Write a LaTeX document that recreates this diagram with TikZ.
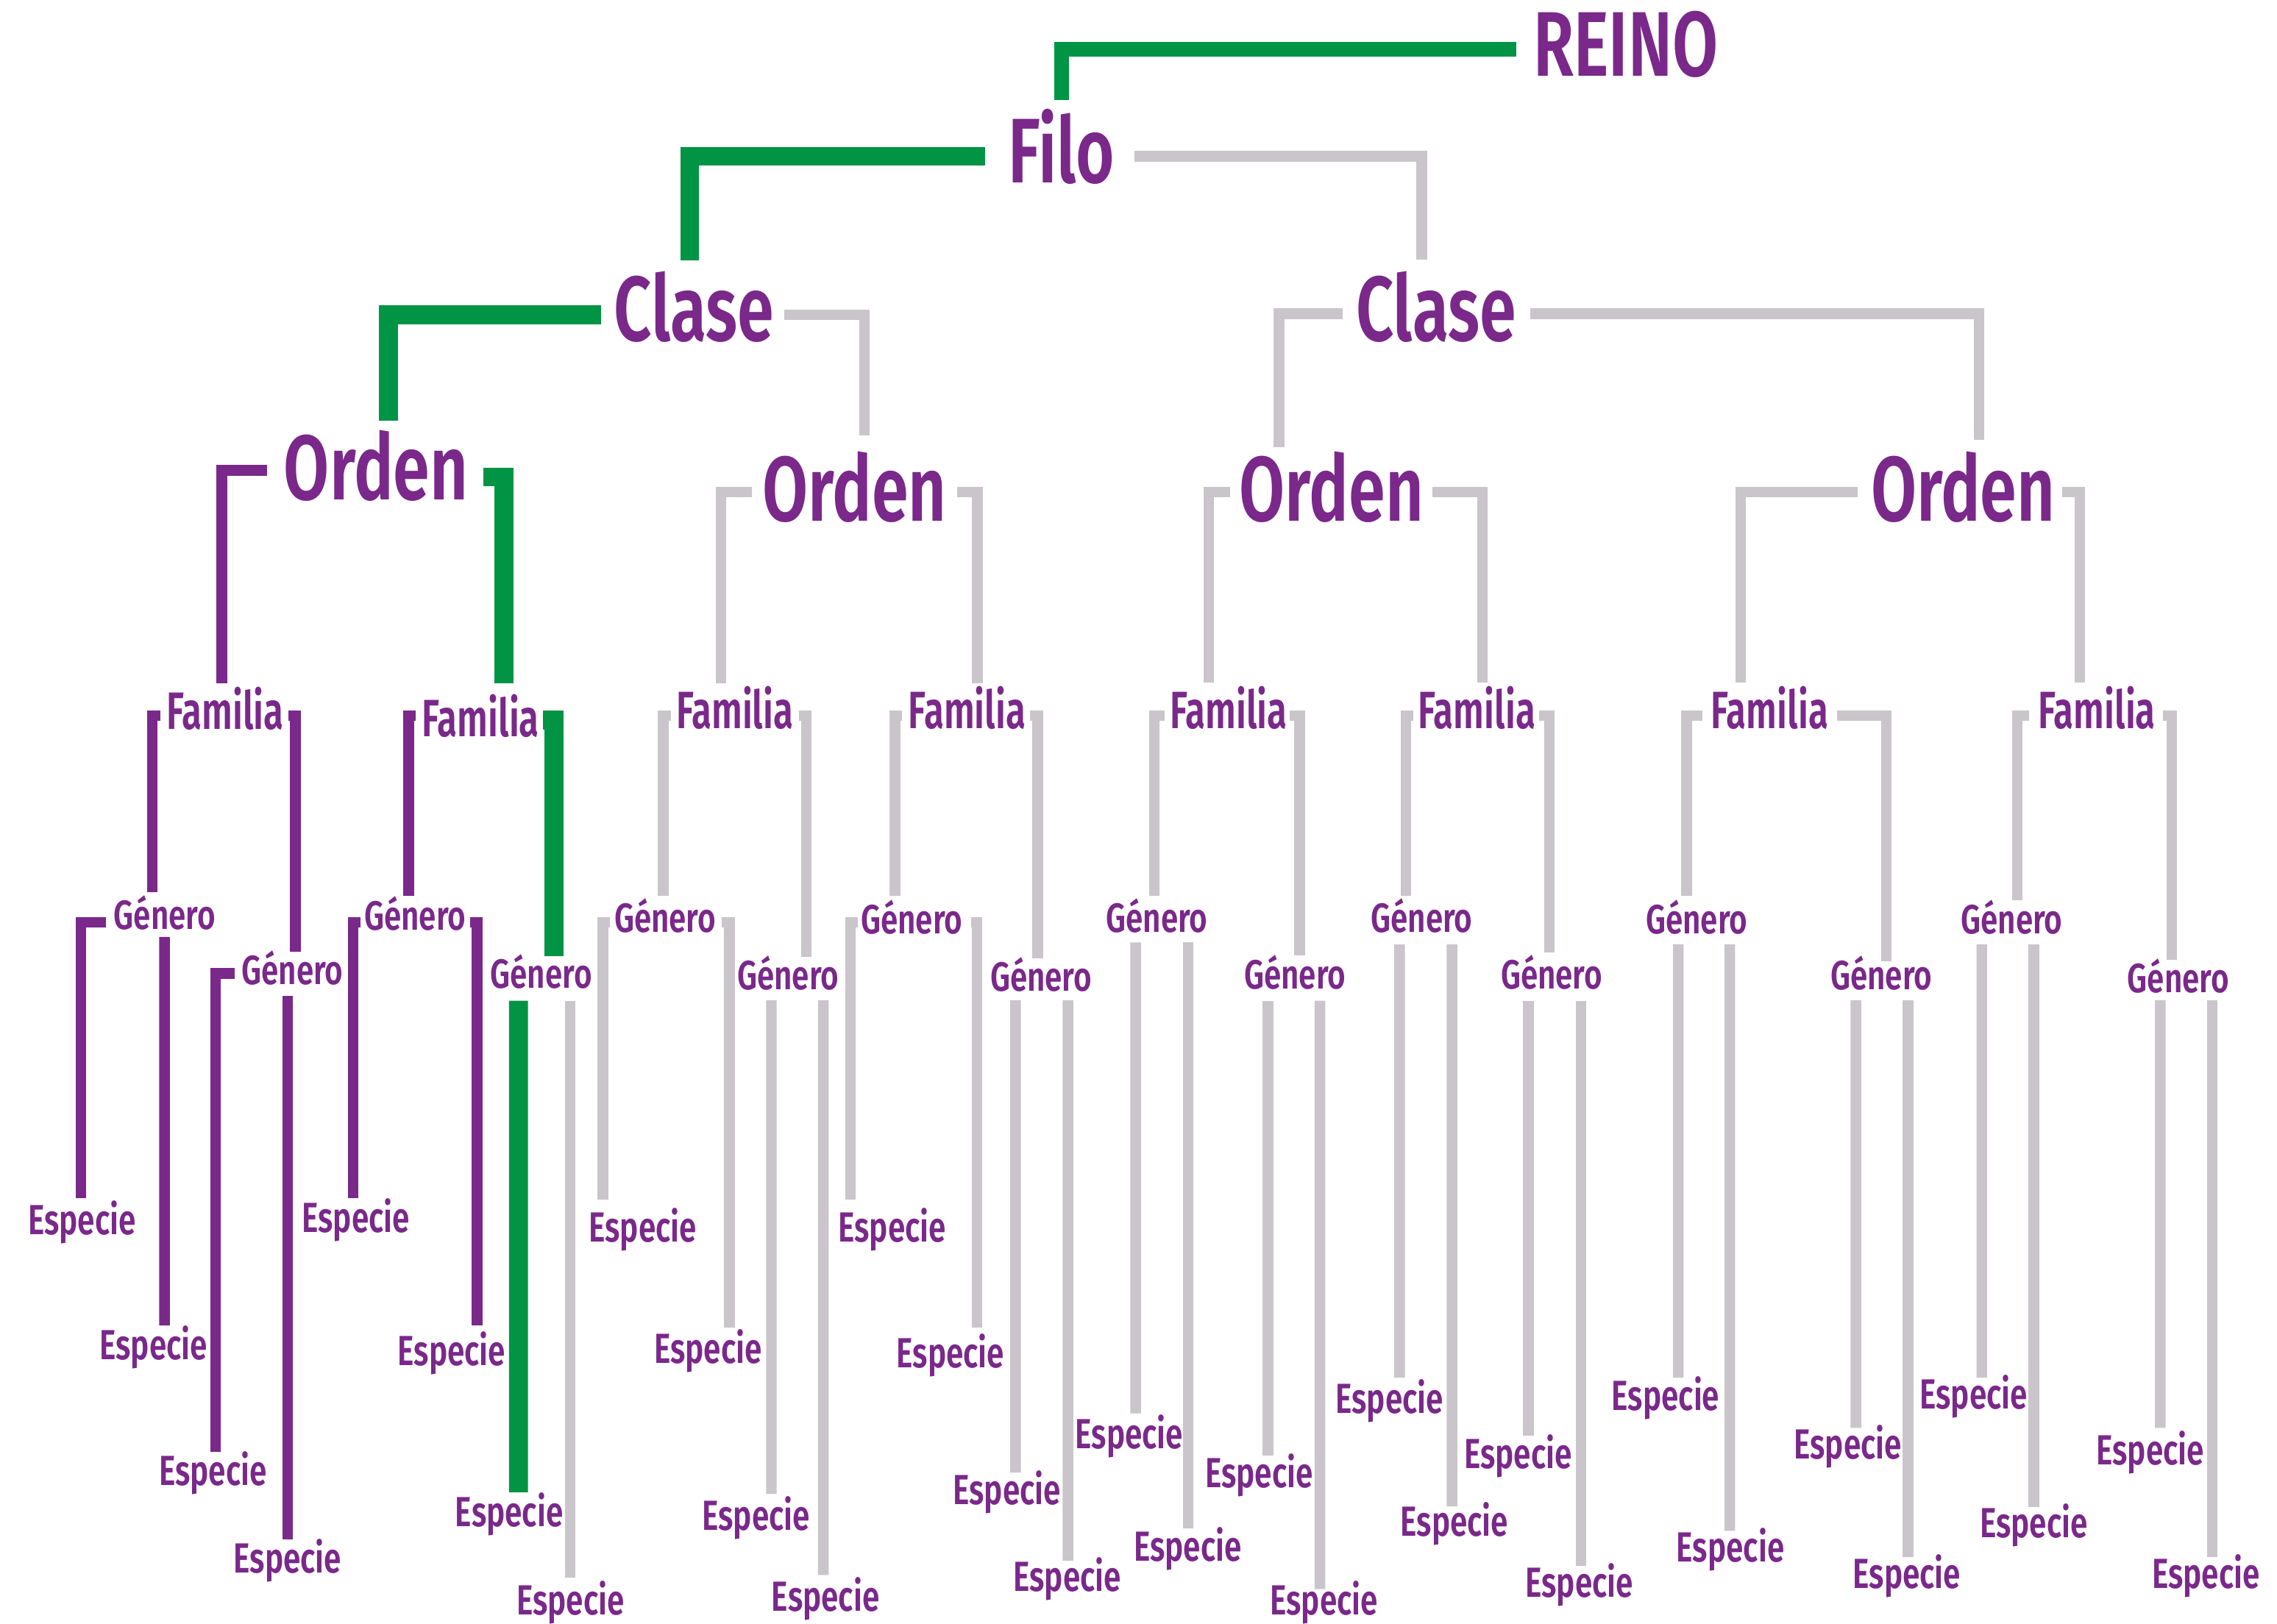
\documentclass[tikz,border=0pt]{standalone}
\usepackage{fontspec}
\usetikzlibrary{calc}

\newfontfamily\bigfont{Fira Sans}[UprightFont={* SemiBold},FakeStretch=0.72]
\newfontfamily\famfont{Fira Sans}[UprightFont={* SemiBold},FakeStretch=0.69]
\newfontfamily\genfont{Fira Sans}[UprightFont={* SemiBold},FakeStretch=0.76]
\newfontfamily\espfont{Fira Sans}[UprightFont={* SemiBold},FakeStretch=0.74]

\definecolor{reinopurple}{RGB}{122,40,138}
\definecolor{rutagreen}{RGB}{0,148,68}
\definecolor{ramagrey}{RGB}{201,197,202}

\begin{document}
\begin{tikzpicture}[x=0.02cm,y=-0.02cm,
  label node/.style={inner sep=0pt,anchor=base,text=reinopurple},
  big node/.style={label node,font=\bigfont\fontsize{36}{40}\selectfont},
  fam node/.style={label node,font=\famfont\fontsize{20.6}{24}\selectfont},
  gen node/.style={label node,font=\genfont\fontsize{16}{19}\selectfont},
  esp node/.style={label node,font=\espfont\fontsize{16.5}{19}\selectfont},
  green top/.style={draw=rutagreen,line width=0.208cm},
  green line/.style={draw=rutagreen,line width=0.26cm},
  purple line/.style={draw=reinopurple,line width=0.146cm},
  grey line/.style={draw=ramagrey,line width=0.146cm}]

  \fill[white] (0,0) rectangle (1568,1118.6);
  \useasboundingbox (0,0) rectangle (1568,1118.6);

  % upper levels
  \node[big node] (reino) at (1119.5,52.4) {REINO};
  \node[big node] (filo) at (731,126) {Filo};
  \node[big node] (claseL) at (478,235) {Clase};
  \node[big node] (claseR) at (989,235) {Clase};
  \node[big node] (orden1) at (259,344) {Orden};
  \node[big node] (orden2) at (588.4,359) {Orden};
  \node[big node] (orden3) at (917,359) {Orden};
  \node[big node] (orden4) at (1351.8,359) {Orden};

  \node[fam node] (fam1) at (155,502.4) {Familia};
  \node[fam node] (fam2) at (331,507.4) {Familia};
  \node[fam node] (fam3) at (506,502) {Familia};
  \node[fam node] (fam4) at (666,502) {Familia};
  \node[fam node] (fam5) at (846,502) {Familia};
  \node[fam node] (fam6) at (1017,502) {Familia};
  \node[fam node] (fam7) at (1218.6,502) {Familia};
  \node[fam node] (fam8) at (1444,502) {Familia};

  \node[gen node] (gen1a) at (113.4,640) {Género};
  \node[gen node] (gen1b) at (201.4,678.2) {Género};
  \node[gen node] (gen2a) at (285.8,640.8) {Género};
  \node[gen node] (gen2b) at (372.7,680.8) {Género};
  \node[gen node] (gen3a) at (458,642.2) {Género};
  \node[gen node] (gen3b) at (542.7,681.9) {Género};
  \node[gen node] (gen4a) at (627.8,643.4) {Género};
  \node[gen node] (gen4b) at (716.9,682.7) {Género};
  \node[gen node] (gen5a) at (796.6,642.1) {Género};
  \node[gen node] (gen5b) at (891.7,681.2) {Género};
  \node[gen node] (gen6a) at (979,642.1) {Género};
  \node[gen node] (gen6b) at (1068.5,681.2) {Género};
  \node[gen node] (gen7a) at (1168.4,643) {Género};
  \node[gen node] (gen7b) at (1295.5,681.5) {Género};
  \node[gen node] (gen8a) at (1385.3,643) {Género};
  \node[gen node] (gen8b) at (1500,683.5) {Género};

  % species
  \node[esp node] (esp1) at (56.4,850.5) {Especie};
  \node[esp node] (esp2) at (105.7,936.7) {Especie};
  \node[esp node] (esp3) at (146.6,1023) {Especie};
  \node[esp node] (esp4) at (198,1083.2) {Especie};
  \node[esp node] (esp5) at (245,848.8) {Especie};
  \node[esp node] (esp6) at (311,940.6) {Especie};
  \node[esp node] (esp7) at (350.7,1051.3) {Especie};
  \node[esp node] (esp8) at (392.9,1112.5) {Especie};
  \node[esp node] (esp9) at (442.6,855.3) {Especie};
  \node[esp node] (esp10) at (487.6,939.2) {Especie};
  \node[esp node] (esp11) at (520.6,1054.1) {Especie};
  \node[esp node] (esp12) at (568.5,1110) {Especie};
  \node[esp node] (esp13) at (614.4,855.3) {Especie};
  \node[esp node] (esp14) at (654.5,942.2) {Especie};
  \node[esp node] (esp15) at (693.4,1036.4) {Especie};
  \node[esp node] (esp16) at (735,1096.3) {Especie};
  \node[esp node] (esp17) at (777.6,997.6) {Especie};
  \node[esp node] (esp18) at (817.9,1075.1) {Especie};
  \node[esp node] (esp19) at (867,1024.6) {Especie};
  \node[esp node] (esp20) at (911.8,1112.5) {Especie};
  \node[esp node] (esp21) at (956.9,973.5) {Especie};
  \node[esp node] (esp22) at (1001.5,1057.9) {Especie};
  \node[esp node] (esp23) at (1045.4,1011.6) {Especie};
  \node[esp node] (esp24) at (1087.6,1100.2) {Especie};
  \node[esp node] (esp25) at (1147,971.2) {Especie};
  \node[esp node] (esp26) at (1191.6,1076) {Especie};
  \node[esp node] (esp27) at (1272.5,1004.7) {Especie};
  \node[esp node] (esp28) at (1313.1,1094.2) {Especie};
  \node[esp node] (esp29) at (1359.1,970.6) {Especie};
  \node[esp node] (esp30) at (1400.5,1059.1) {Especie};
  \node[esp node] (esp31) at (1480.7,1009) {Especie};
  \node[esp node] (esp32) at (1519,1094.2) {Especie};

  % reino to orden
  \draw[green top] ($(reino.base)+(-75.5,-18.4)$) -| ($(filo.base)+(0,-57)$);
  \draw[green line] ($(filo.base)+(-52.4,-18.3)$) -| ($(claseL.base)+(-3,-55.6)$);
  \draw[grey line] ($(filo.base)+(50,-18.3)$) -| ($(claseR.base)+(-10,-56)$);
  \draw[green line] ($(claseL.base)+(-64,-18.3)$) -| ($(orden1.base)+(8.6,-54)$);
  \draw[grey line] ($(claseL.base)+(62,-18.3)$) -| ($(orden2.base)+(7,-59)$);
  \draw[grey line] ($(claseR.base)+(-64.5,-19)$) -| ($(orden3.base)+(-36.3,-51.2)$);
  \draw[grey line] ($(claseR.base)+(65,-19)$) -| ($(orden4.base)+(11,-56)$);

  % orden to familia
  \draw[purple line] ($(orden1.base)+(-75,-20)$) -| ($(fam1.base)+(-2.3,-31.9)$);
  \draw[green line] ($(orden1.base)+(74,-15.4)$) -| ($(fam2.base)+(15.9,-36.9)$);
  \draw[grey line] ($(orden2.base)+(-70.8,-20)$) -| ($(fam3.base)+(-9.6,-31.5)$);
  \draw[grey line] ($(orden2.base)+(70.9,-20)$) -| ($(fam4.base)+(7,-31.5)$);
  \draw[grey line] ($(orden3.base)+(-70,-20)$) -| ($(fam5.base)+(-13.6,-31.7)$);
  \draw[grey line] ($(orden3.base)+(69.5,-20)$) -| ($(fam6.base)+(3.8,-31.7)$);
  \draw[grey line] ($(orden4.base)+(-72.5,-20)$) -| ($(fam7.base)+(-19.9,-32)$);
  \draw[grey line] ($(orden4.base)+(68.2,-20)$) -| ($(fam8.base)+(-11.8,-32)$);

  % familia to genero
  \draw[purple line] ($(fam1.base)+(-44.4,-9.4)$) -| ($(gen1a.base)+(-8.4,-25.7)$);
  \draw[purple line] ($(fam1.base)+(43.5,-9.4)$) -| ($(gen1b.base)+(2.1,-22.5)$);
  \draw[purple line] ($(fam2.base)+(-44.9,-14.4)$) -| ($(gen2a.base)+(-4.3,-23.6)$);
  \draw[green line] ($(fam2.base)+(43,-11.4)$) -| ($(gen2b.base)+(8.8,-22)$);
  \draw[grey line] ($(fam3.base)+(-44.2,-9)$) -| ($(gen3a.base)+(-1.2,-25)$);
  \draw[grey line] ($(fam3.base)+(44,-9)$) -| ($(gen3b.base)+(12.7,-22.9)$);
  \draw[grey line] ($(fam4.base)+(-45,-9)$) -| ($(gen4a.base)+(-11.5,-26.2)$);
  \draw[grey line] ($(fam4.base)+(43.4,-9)$) -| ($(gen4b.base)+(-2.3,-22.7)$);
  \draw[grey line] ($(fam5.base)+(-44,-9)$) -| ($(gen5a.base)+(-1.6,-25)$);
  \draw[grey line] ($(fam5.base)+(42,-9)$) -| ($(gen5b.base)+(3.3,-23)$);
  \draw[grey line] ($(fam6.base)+(-44,-9)$) -| ($(gen6a.base)+(-11,-25)$);
  \draw[grey line] ($(fam6.base)+(43,-9)$) -| ($(gen6b.base)+(-1.5,-25)$);
  \draw[grey line] ($(fam7.base)+(-46.3,-9)$) -| ($(gen7a.base)+(-6.9,-25.8)$);
  \draw[grey line] ($(fam7.base)+(46.2,-9)$) -| ($(gen7b.base)+(3.5,-19.5)$);
  \draw[grey line] ($(fam8.base)+(-47,-9)$) -| ($(gen8a.base)+(3.7,-22.8)$);
  \draw[grey line] ($(fam8.base)+(45.2,-9)$) -| ($(gen8b.base)+(-4.6,-22.5)$);

  % genero to especie
  \draw[purple line] ($(gen1a.base)+(-40.4,-4.7)$) -| ($(esp1.base)+(-0.7,-25.1)$);
  \draw[purple line] ($(gen1a.base)+(-0.1,5.4)$) -- ($(esp2.base)+(7.6,-23.7)$);
  \draw[purple line] ($(gen1b.base)+(-40,-7.6)$) -| ($(esp3.base)+(1.7,-22.8)$);
  \draw[purple line] ($(gen1b.base)+(-3.2,7.8)$) -- ($(esp4.base)+(0.2,-22.8)$);
  \draw[purple line] ($(gen2a.base)+(-37.7,-5.5)$) -| ($(esp5.base)+(-1.8,-23.4)$);
  \draw[purple line] ($(gen2a.base)+(37.8,-5.5)$) -| ($(esp6.base)+(17.5,-27.6)$);
  \draw[green line] ($(gen2b.base)+(-15.7,8.5)$) -- ($(esp7.base)+(6.3,-23.4)$);
  \draw[grey line] ($(gen2b.base)+(20,8.5)$) -- ($(esp8.base)+(-0.2,-26)$);
  \draw[grey line] ($(gen3a.base)+(-38,-6.8)$) -| ($(esp9.base)+(-27.4,-28.9)$);
  \draw[grey line] ($(gen3a.base)+(38.9,-6.8)$) -| ($(esp10.base)+(14.7,-25)$);
  \draw[grey line] ($(gen3b.base)+(-11.5,7.1)$) -- ($(esp11.base)+(10.6,-25.1)$);
  \draw[grey line] ($(gen3b.base)+(24.3,7.1)$) -- ($(esp12.base)+(-1.5,-25.2)$);
  \draw[grey line] ($(gen4a.base)+(-37.1,-8)$) -| ($(esp13.base)+(-28.8,-28.9)$);
  \draw[grey line] ($(gen4a.base)+(40.9,-8)$) -| ($(esp14.base)+(18.4,-28)$);
  \draw[grey line] ($(gen4b.base)+(-17.6,6.3)$) -- ($(esp15.base)+(5.9,-22.1)$);
  \draw[grey line] ($(gen4b.base)+(18.5,6.3)$) -- ($(esp16.base)+(0.4,-21.3)$);
  \draw[grey line] ($(gen5a.base)+(-14.6,7.1)$) -- ($(esp17.base)+(4.4,-24.1)$);
  \draw[grey line] ($(gen5a.base)+(21.5,7.1)$) -- ($(esp18.base)+(0.2,-22.1)$);
  \draw[grey line] ($(gen5b.base)+(-18.6,8.1)$) -- ($(esp19.base)+(6.1,-21.8)$);
  \draw[grey line] ($(gen5b.base)+(17.2,8.1)$) -- ($(esp20.base)+(-2.9,-17.9)$);
  \draw[grey line] ($(gen6a.base)+(-15.2,8.5)$) -- ($(esp21.base)+(6.9,-24.7)$);
  \draw[grey line] ($(gen6a.base)+(20.9,8.5)$) -- ($(esp22.base)+(-1.6,-20.3)$);
  \draw[grey line] ($(gen6b.base)+(-16,8.1)$) -- ($(esp23.base)+(7.1,-22.8)$);
  \draw[grey line] ($(gen6b.base)+(20.1,8.1)$) -- ($(esp24.base)+(1,-21.8)$);
  \draw[grey line] ($(gen7a.base)+(-12.7,7.5)$) -- ($(esp25.base)+(8.7,-22.2)$);
  \draw[grey line] ($(gen7a.base)+(22.8,7.5)$) -- ($(esp26.base)+(-0.4,-21.5)$);
  \draw[grey line] ($(gen7b.base)+(-17.5,7.5)$) -- ($(esp27.base)+(5.5,-21.1)$);
  \draw[grey line] ($(gen7b.base)+(18.5,7.5)$) -- ($(esp28.base)+(0.9,-21.6)$);
  \draw[grey line] ($(gen8a.base)+(-20.6,7.5)$) -- ($(esp29.base)+(5.6,-21.6)$);
  \draw[grey line] ($(gen8a.base)+(15.3,7.5)$) -- ($(esp30.base)+(0.1,-21)$);
  \draw[grey line] ($(gen8b.base)+(-12.4,5.5)$) -- ($(esp31.base)+(6.9,-25.4)$);
  \draw[grey line] ($(gen8b.base)+(23.5,5.5)$) -- ($(esp32.base)+(4.5,-21.6)$);
\end{tikzpicture}
\end{document}
